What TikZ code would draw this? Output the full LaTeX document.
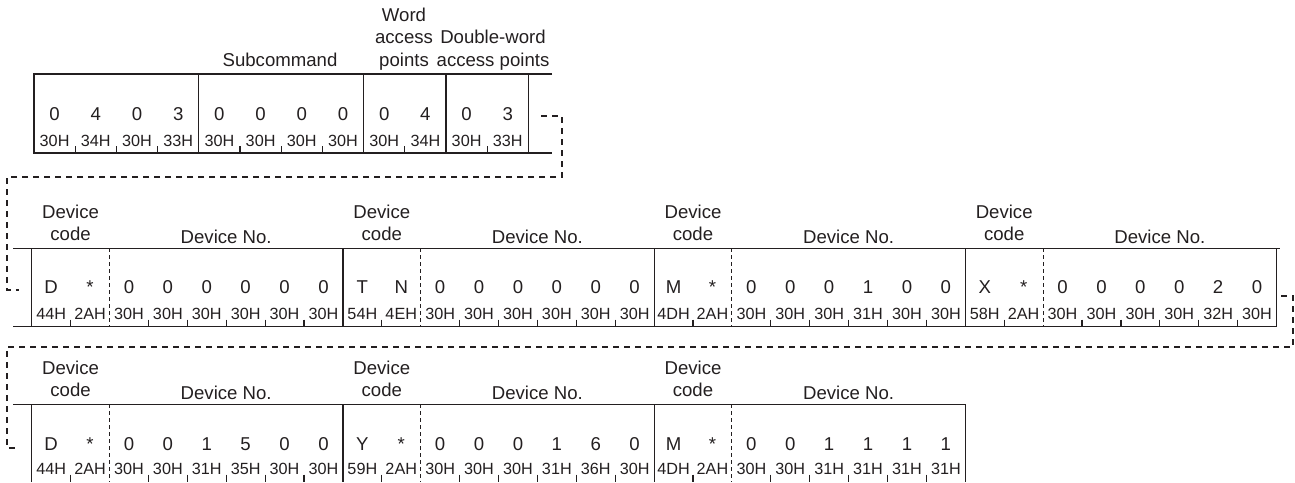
\documentclass[tikz,border=0pt]{standalone}
\usepackage{fontspec}
\setmainfont{Liberation Sans}
\usepackage{xcolor}
\usetikzlibrary{positioning}
\definecolor{ink}{RGB}{35,31,32}

\begin{document}
\begin{tikzpicture}[x=0.5pt, y=-0.5pt,
  every node/.style={inner sep=0pt, text=ink},
  lbl/.style={font=\fontsize{9.3}{11}\selectfont, anchor=base},
  digit/.style={font=\fontsize{9.3}{11}\selectfont, anchor=base},
  hexa/.style={font=\fontsize{8.1}{9}\selectfont, anchor=base},
  rule/.style={draw=ink, line width=0.6pt},
  sep/.style={draw=ink, line width=0.5pt, dash pattern=on 2pt off 1.5pt},
  link/.style={draw=ink, line width=1.2pt, dash pattern=on 3pt off 2.5pt}]
  \useasboundingbox (0,0) rectangle (1295,482);

  % first line: subcommand and access points
  \node[lbl] (subcmd) at (280,66) {Subcommand};
  \node[lbl] (wap1) at (404,21) {Word};
  \node[lbl] (wap2) at (404,43.5) {access};
  \node[lbl] (wap3) at (404,66) {points};
  \node[lbl] (dwap1) at (493,43.5) {Double-word};
  \node[lbl] (dwap2) at (493,66) {access points};
  \draw[rule] (552,74) -- (34,74) -- (34,153) -- (552,153);
  \foreach \k in {4,8,10,12} \draw[rule] ({34+\k*41.2},74) -- ({34+\k*41.2},153);
  \foreach \k in {1,2,3,5,6,7,9,11} \draw[rule] ({34+\k*41.2},146) -- ({34+\k*41.2},153);
  \foreach \ch/\hx [count=\i from 0] in {0/30H,4/34H,0/30H,3/33H,0/30H,0/30H,0/30H,0/30H,0/30H,4/34H,0/30H,3/33H} {
    \node[digit] (a\i) at ({34+(\i+0.5)*41.2},120) {\ch};
    \node[hexa] (ah\i) at ({34+(\i+0.5)*41.2},146.5) {\hx};
  }

  % second line: four devices
  \draw[rule] (13,248.3) -- (1280,248.3);
  \draw[rule] (13,326.5) -- (1276,326.5);
  \foreach \g in {0,8,16,24} {
    \draw[rule] ({31.7+\g*38.9},248.3) -- ++(0,78.2);
    \draw[sep] ({31.7+(\g+2)*38.9},248.3) -- ++(0,78.2);
    \foreach \k in {1,3,4,5,6,7} \draw[rule] ({31.7+(\g+\k)*38.9},319.5) -- ({31.7+(\g+\k)*38.9},326.5);
  }
  \draw[rule] ({31.7+32*38.9},248.3) -- ++(0,78.2);
  \foreach \g in {0,1,2,3} {
    \node[lbl] (bdc\g) at ({31.7+(8*\g+1)*38.9},218) {Device};
    \node[lbl] (bcd\g) at ({31.7+(8*\g+1)*38.9},240) {code};
    \node[lbl] (bno\g) at ({31.7+(8*\g+5)*38.9},243) {Device No.};
  }
  \foreach \ch/\hx [count=\i from 0] in {D/44H,*/2AH,0/30H,0/30H,0/30H,0/30H,0/30H,0/30H,
      T/54H,N/4EH,0/30H,0/30H,0/30H,0/30H,0/30H,0/30H,
      M/4DH,*/2AH,0/30H,0/30H,0/30H,1/31H,0/30H,0/30H,
      X/58H,*/2AH,0/30H,0/30H,0/30H,0/30H,2/32H,0/30H} {
    \node[digit] (b\i) at ({31.7+(\i+0.5)*38.9},293) {\ch};
    \node[hexa] (bh\i) at ({31.7+(\i+0.5)*38.9},319) {\hx};
  }

  % third line: three devices
  \draw[rule] (13,404.3) -- (965,404.3);
  \foreach \g in {0,8,16} {
    \draw[rule] ({31.7+\g*38.9},404.3) -- ++(0,77.7);
    \draw[sep] ({31.7+(\g+2)*38.9},404.3) -- ++(0,77.7);
    \foreach \k in {1,3,4,5,6,7} \draw[rule] ({31.7+(\g+\k)*38.9},474.5) -- ({31.7+(\g+\k)*38.9},482);
  }
  \draw[rule] ({31.7+24*38.9},404.3) -- ++(0,77.7);
  \foreach \g in {0,1,2} {
    \node[lbl] (cdc\g) at ({31.7+(8*\g+1)*38.9},374.5) {Device};
    \node[lbl] (ccd\g) at ({31.7+(8*\g+1)*38.9},396) {code};
    \node[lbl] (cno\g) at ({31.7+(8*\g+5)*38.9},399) {Device No.};
  }
  \foreach \ch/\hx [count=\i from 0] in {D/44H,*/2AH,0/30H,0/30H,1/31H,5/35H,0/30H,0/30H,
      Y/59H,*/2AH,0/30H,0/30H,0/30H,1/31H,6/36H,0/30H,
      M/4DH,*/2AH,0/30H,0/30H,1/31H,1/31H,1/31H,1/31H} {
    \node[digit] (c\i) at ({31.7+(\i+0.5)*38.9},450) {\ch};
    \node[hexa] (ch\i) at ({31.7+(\i+0.5)*38.9},474) {\hx};
  }

  % continuation links
  \coordinate (l1s) at (541,116);
  \coordinate (l1e) at (19,290);
  \coordinate (l2s) at (1281,296);
  \coordinate (l2e) at (19,448);
  \draw[link] (l1s) -| (562,177) -| (7,290) -- (l1e);
  \draw[link] (l2s) -| (1293,346.7) -| (7,448) -- (l2e);
\end{tikzpicture}
\end{document}
